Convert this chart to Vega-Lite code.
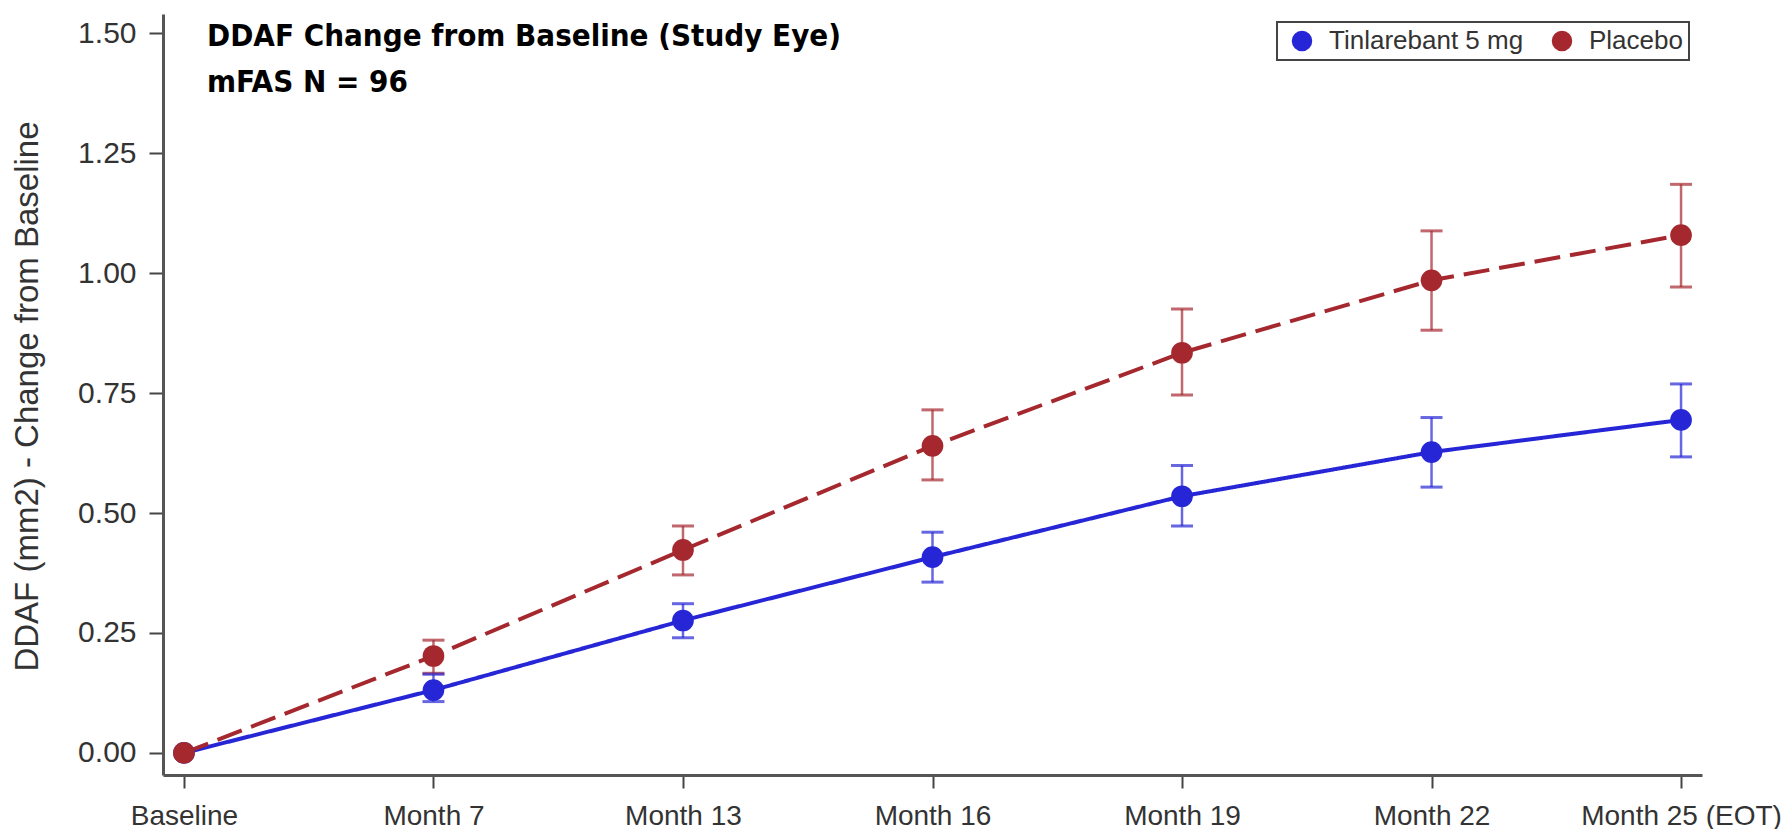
{
  "$schema": "https://vega.github.io/schema/vega-lite/v6.json",
  "autosize": {"type": "none"},
  "width": 1539,
  "height": 761,
  "padding": {"left": 163, "top": 14, "right": 87, "bottom": 54},
  "background": "white",
  "title": {
    "text": ["DDAF Change from Baseline (Study Eye)", "mFAS N = 96"],
    "orient": "top",
    "anchor": "start",
    "frame": "group",
    "baseline": "top",
    "offset": -4,
    "dx": 44,
    "dy": 81,
    "font": "DejaVu Sans Condensed, Liberation Sans, sans-serif",
    "fontWeight": "bold",
    "fontSize": 31,
    "lineHeight": 46,
    "color": "#000000"
  },
  "data": {
    "values": [
      {"visit": "Baseline", "group": "Tinlarebant 5 mg", "mean": 0.0, "lo": null, "hi": null},
      {"visit": "Month 7", "group": "Tinlarebant 5 mg", "mean": 0.131, "lo": 0.107, "hi": 0.164},
      {"visit": "Month 13", "group": "Tinlarebant 5 mg", "mean": 0.276, "lo": 0.240, "hi": 0.311},
      {"visit": "Month 16", "group": "Tinlarebant 5 mg", "mean": 0.408, "lo": 0.356, "hi": 0.460},
      {"visit": "Month 19", "group": "Tinlarebant 5 mg", "mean": 0.535, "lo": 0.473, "hi": 0.599},
      {"visit": "Month 22", "group": "Tinlarebant 5 mg", "mean": 0.627, "lo": 0.554, "hi": 0.699},
      {"visit": "Month 25 (EOT)", "group": "Tinlarebant 5 mg", "mean": 0.694, "lo": 0.617, "hi": 0.769},
      {"visit": "Baseline", "group": "Placebo", "mean": 0.0, "lo": null, "hi": null},
      {"visit": "Month 7", "group": "Placebo", "mean": 0.202, "lo": 0.166, "hi": 0.235},
      {"visit": "Month 13", "group": "Placebo", "mean": 0.423, "lo": 0.371, "hi": 0.473},
      {"visit": "Month 16", "group": "Placebo", "mean": 0.640, "lo": 0.569, "hi": 0.715},
      {"visit": "Month 19", "group": "Placebo", "mean": 0.834, "lo": 0.746, "hi": 0.925},
      {"visit": "Month 22", "group": "Placebo", "mean": 0.985, "lo": 0.881, "hi": 1.088},
      {"visit": "Month 25 (EOT)", "group": "Placebo", "mean": 1.079, "lo": 0.971, "hi": 1.185}
    ]
  },
  "encoding": {
    "x": {
      "field": "visit",
      "type": "ordinal",
      "sort": ["Baseline", "Month 7", "Month 13", "Month 16", "Month 19", "Month 22", "Month 25 (EOT)"],
      "scale": {"type": "point", "padding": 0.084},
      "axis": {
        "title": null,
        "labelAngle": 0,
        "labelFont": "Liberation Sans",
        "labelFontSize": 28,
        "labelColor": "#333333",
        "labelPadding": 14,
        "labelLimit": 400,
        "tickSize": 13,
        "tickWidth": 2,
        "tickColor": "#444444",
        "domainColor": "#555555",
        "domainWidth": 3,
        "grid": false
      }
    },
    "color": {
      "field": "group",
      "type": "nominal",
      "scale": {"domain": ["Tinlarebant 5 mg", "Placebo"], "range": ["#2626D6", "#A5282F"]},
      "legend": {
        "title": null,
        "orient": "none",
        "legendX": 1114,
        "legendY": 8,
        "direction": "horizontal",
        "symbolType": "circle",
        "symbolSize": 420,
        "symbolStrokeWidth": 0,
        "symbolOpacity": 1,
        "symbolOffset": 6,
        "labelFont": "Liberation Sans",
        "labelFontSize": 26,
        "labelColor": "#333333",
        "labelOffset": 14,
        "labelLimit": 400,
        "columnPadding": 19,
        "padding": 6,
        "strokeColor": "#444444",
        "encode": {
          "symbols": {
            "update": {
              "fill": {"scale": "color", "field": "value"},
              "stroke": {"value": "transparent"},
              "opacity": {"value": 1},
              "size": {"value": 420},
              "strokeDash": {"value": [1, 0]}
            }
          }
        }
      }
    }
  },
  "layer": [
    {
      "mark": {"type": "rule", "strokeWidth": 2.5, "opacity": 0.7},
      "encoding": {
        "y": {"field": "lo", "type": "quantitative"},
        "y2": {"field": "hi"}
      }
    },
    {
      "mark": {"type": "tick", "size": 22, "thickness": 3, "opacity": 0.7},
      "encoding": {
        "y": {"field": "lo", "type": "quantitative"}
      }
    },
    {
      "mark": {"type": "tick", "size": 22, "thickness": 3, "opacity": 0.7},
      "encoding": {
        "y": {"field": "hi", "type": "quantitative"}
      }
    },
    {
      "mark": {"type": "line", "strokeWidth": 4},
      "encoding": {
        "y": {"field": "mean", "type": "quantitative"},
        "strokeDash": {
          "field": "group",
          "type": "nominal",
          "scale": {"domain": ["Tinlarebant 5 mg", "Placebo"], "range": [[1, 0], [26, 10]]},
          "legend": null
        }
      }
    },
    {
      "mark": {"type": "point", "shape": "circle", "filled": true, "size": 470, "opacity": 1},
      "encoding": {
        "y": {
          "field": "mean",
          "type": "quantitative",
          "scale": {"domain": [-0.046, 1.54], "nice": false, "zero": false},
          "axis": {
            "title": "DDAF (mm2) - Change from Baseline",
            "values": [0, 0.25, 0.5, 0.75, 1.0, 1.25, 1.5],
            "format": ".2f",
            "labelFont": "Liberation Sans",
            "labelFontSize": 30,
            "labelColor": "#333333",
            "labelPadding": 13,
            "tickSize": 14,
            "tickWidth": 2,
            "tickColor": "#444444",
            "domainColor": "#555555",
            "domainWidth": 3,
            "grid": false,
            "titleFont": "Liberation Sans",
            "titleFontSize": 33,
            "titleFontWeight": "normal",
            "titleColor": "#333333",
            "titleBaseline": "middle",
            "titleX": -136,
            "titleY": 382
          }
        }
      }
    }
  ],
  "config": {
    "view": {"stroke": null},
    "legend": {"strokeWidth": 2}
  }
}
